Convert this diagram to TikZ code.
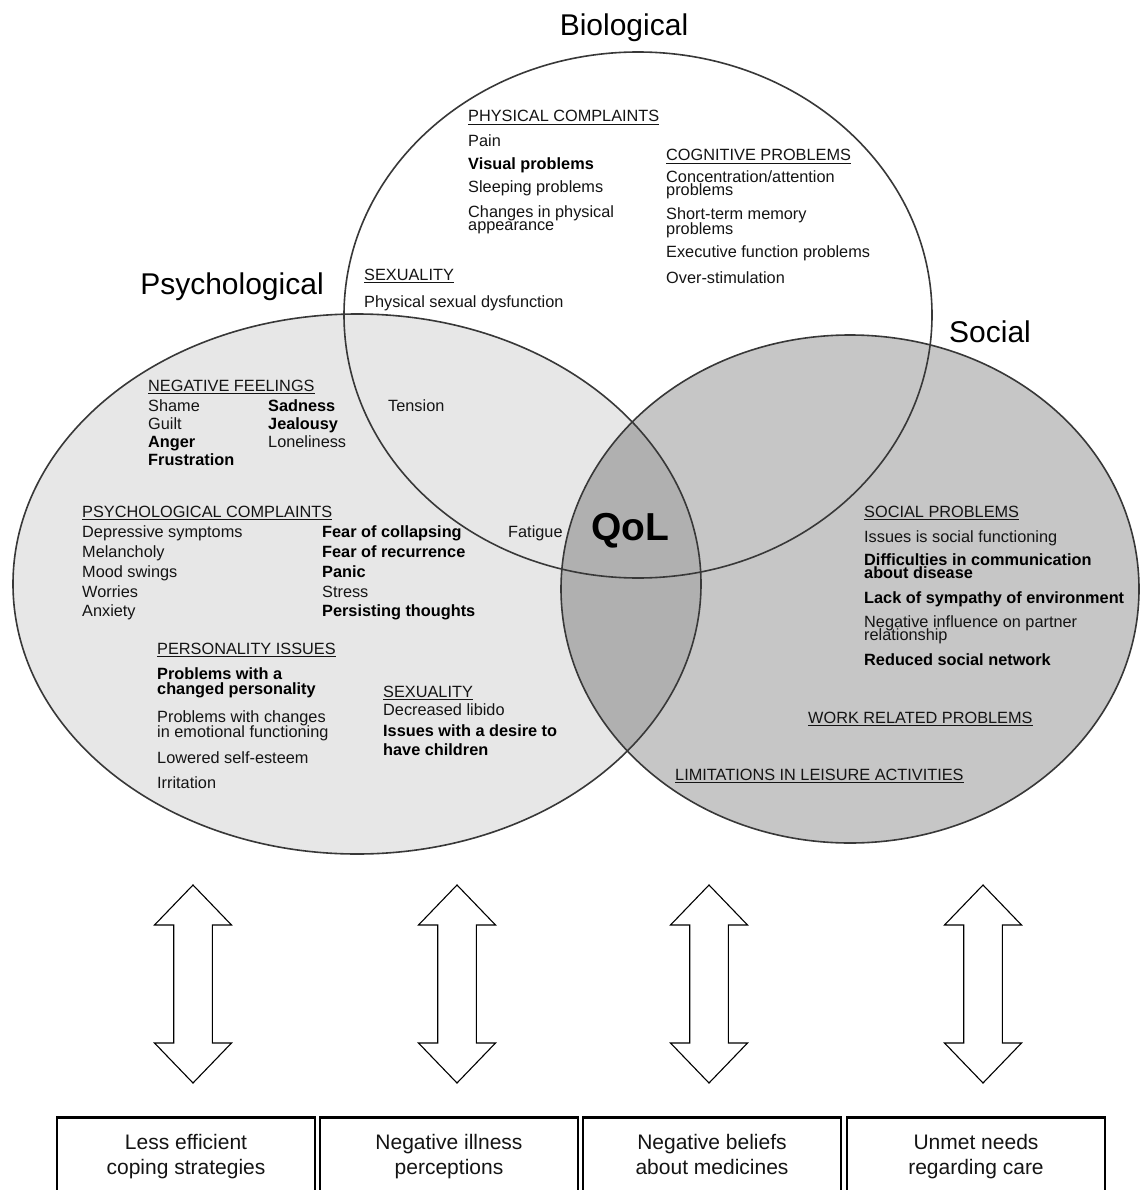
\documentclass[tikz,border=0pt]{standalone}
\usepackage{fontspec}
\setmainfont{Liberation Sans}
\definecolor{psy}{gray}{0.905}
\definecolor{soc}{gray}{0.775}
\definecolor{ovl}{gray}{0.69}
\definecolor{edge}{gray}{0.22}
\definecolor{txt}{gray}{0.08}
\newcommand\myul[1]{\setbox0\hbox{#1}\rlap{\rule[-2.8pt]{\wd0}{1.1pt}}\box0}
\begin{document}
\begin{tikzpicture}[x=1pt,y=-1pt,
  el/.style={draw=edge, line width=1.6pt},
  tx/.style={anchor=base west, inner sep=0pt, font=\fontsize{16.3}{16}\selectfont, text=txt},
  bx/.style={anchor=base west, inner sep=0pt, font=\fontsize{16.3}{16}\selectfont\bfseries, text=black},
  hd/.style={anchor=base west, inner sep=0pt, font=\fontsize{16.3}{16}\selectfont, text=txt},
  ttl/.style={anchor=base, inner sep=0pt, font=\fontsize{30}{32}\selectfont, text=black},
  boxst/.style={draw=black, line width=1.3pt, anchor=north, minimum width=258pt, minimum height=78pt, align=center, font=\fontsize{21}{25}\selectfont, inner sep=0pt, text=txt},
  arr/.style={draw=black, line width=1.1pt, fill=white, line join=miter}
]
\useasboundingbox (0,0) rectangle (1140,1190);
\fill[white] (0,0) rectangle (1140,1190);
\begin{scope}
\clip (0,0) rectangle (1140,1190);
% fills
\fill[psy] (357,584) ellipse [x radius=344pt, y radius=270pt];
\fill[soc] (850,589) ellipse [x radius=289pt, y radius=254pt];
\begin{scope}
\clip (357,584) ellipse [x radius=344pt, y radius=270pt];
\fill[ovl] (850,589) ellipse [x radius=289pt, y radius=254pt];
\end{scope}
% outlines
\draw[el] (357,584) ellipse [x radius=344pt, y radius=270pt];
\draw[el] (850,589) ellipse [x radius=289pt, y radius=254pt];
\draw[el] (638,315) ellipse [x radius=294pt, y radius=263pt];

% titles
\node[ttl] (tbio) at (624,35.5) {Biological};
\node[ttl] (tpsy) at (232,294.5) {Psychological};
\node[ttl] (tsoc) at (990,342) {Social};
\node[anchor=base, inner sep=0pt, font=\fontsize{39}{40}\selectfont\bfseries] (qol) at (630,540) {QoL};

% biological
\node[hd] (h1) at (468,122) {\myul{PHYSICAL COMPLAINTS}};
\node[tx] (b1) at (468,147) {Pain};
\node[bx] (b2) at (468,170) {Visual problems};
\node[tx] (b3) at (468,193) {Sleeping problems};
\node[tx] (b4) at (468,218) {Changes in physical};
\node[tx] (b5) at (468,231) {appearance};
\node[hd] (h2) at (666,161) {\myul{COGNITIVE PROBLEMS}};
\node[tx] (b6) at (666,183) {Concentration/attention};
\node[tx] (b7) at (666,196) {problems};
\node[tx] (b8) at (666,220) {Short-term memory};
\node[tx] (b9) at (666,234) {problems};
\node[tx] (b10) at (666,258) {Executive function problems};
\node[tx] (b11) at (666,283) {Over-stimulation};
\node[hd] (h3) at (364,280) {\myul{SEXUALITY}};
\node[tx] (b12) at (364,307) {Physical sexual dysfunction};

% psychological
\node[hd] (h4) at (148,391) {\myul{NEGATIVE FEELINGS}};
\node[tx] (p1) at (148,411) {Shame};
\node[tx] (p2) at (148,429) {Guilt};
\node[bx] (p3) at (148,447) {Anger};
\node[bx] (p4) at (148,465) {Frustration};
\node[bx] (p5) at (268,411) {Sadness};
\node[bx] (p6) at (268,429) {Jealousy};
\node[tx] (p7) at (268,447) {Loneliness};
\node[tx] (p8) at (388,411) {Tension};
\node[hd] (h5) at (82,517) {\myul{PSYCHOLOGICAL COMPLAINTS}};
\node[tx] (p9) at (82,537) {Depressive symptoms};
\node[tx] (p10) at (82,557) {Melancholy};
\node[tx] (p11) at (82,577) {Mood swings};
\node[tx] (p12) at (82,597) {Worries};
\node[tx] (p13) at (82,616) {Anxiety};
\node[bx] (p14) at (322,537) {Fear of collapsing};
\node[bx] (p15) at (322,557) {Fear of recurrence};
\node[bx] (p16) at (322,577) {Panic};
\node[tx] (p17) at (322,597) {Stress};
\node[bx] (p18) at (322,616) {Persisting thoughts};
\node[tx] (p19) at (508,537) {Fatigue};
\node[hd] (h6) at (157,654) {\myul{PERSONALITY ISSUES}};
\node[bx] (p20) at (157,679) {Problems with a};
\node[bx] (p21) at (157,694) {changed personality};
\node[tx] (p22) at (157,722) {Problems with changes};
\node[tx] (p23) at (157,737) {in emotional functioning};
\node[tx] (p24) at (157,763) {Lowered self-esteem};
\node[tx] (p25) at (157,788) {Irritation};
\node[hd] (h7) at (383,697) {\myul{SEXUALITY}};
\node[tx] (p26) at (383,715) {Decreased libido};
\node[bx] (p27) at (383,736) {Issues with a desire to};
\node[bx] (p28) at (383,755) {have children};

% social
\node[hd] (h8) at (864,517) {\myul{SOCIAL PROBLEMS}};
\node[tx] (s1) at (864,542) {Issues is social functioning};
\node[bx] (s2) at (864,565) {Difficulties in communication};
\node[bx] (s3) at (864,578) {about disease};
\node[bx] (s4) at (864,603) {Lack of sympathy of environment};
\node[tx] (s5) at (864,627) {Negative influence on partner};
\node[tx] (s6) at (864,640) {relationship};
\node[bx] (s7) at (864,665) {Reduced social network};
\node[hd] (h9) at (808,723) {\myul{WORK RELATED PROBLEMS}};
\node[hd] (h10) at (675,780) {\myul{LIMITATIONS IN LEISURE ACTIVITIES}};

% double arrows
\foreach \cx in {193,457,709,983}{
  \draw[arr] (\cx,885) -- (\cx+38.5,925) -- (\cx+19.3,925) -- (\cx+19.3,1043)
    -- (\cx+38.5,1043) -- (\cx,1083) -- (\cx-38.5,1043) -- (\cx-19.3,1043)
    -- (\cx-19.3,925) -- (\cx-38.5,925) -- cycle;
}

% boxes
\node[boxst] (k1) at (186,1117) {\strut Less efficient\\\strut coping strategies};
\node[boxst] (k2) at (449,1117) {\strut Negative illness\\\strut perceptions};
\node[boxst] (k3) at (712,1117) {\strut Negative beliefs\\\strut about medicines};
\node[boxst] (k4) at (976,1117) {\strut Unmet needs\\\strut regarding care};
\foreach \k in {k1,k2,k3,k4}{
  \draw[line width=3pt] (\k.north west) -- (\k.north east);
}
\end{scope}
\end{tikzpicture}
\end{document}
